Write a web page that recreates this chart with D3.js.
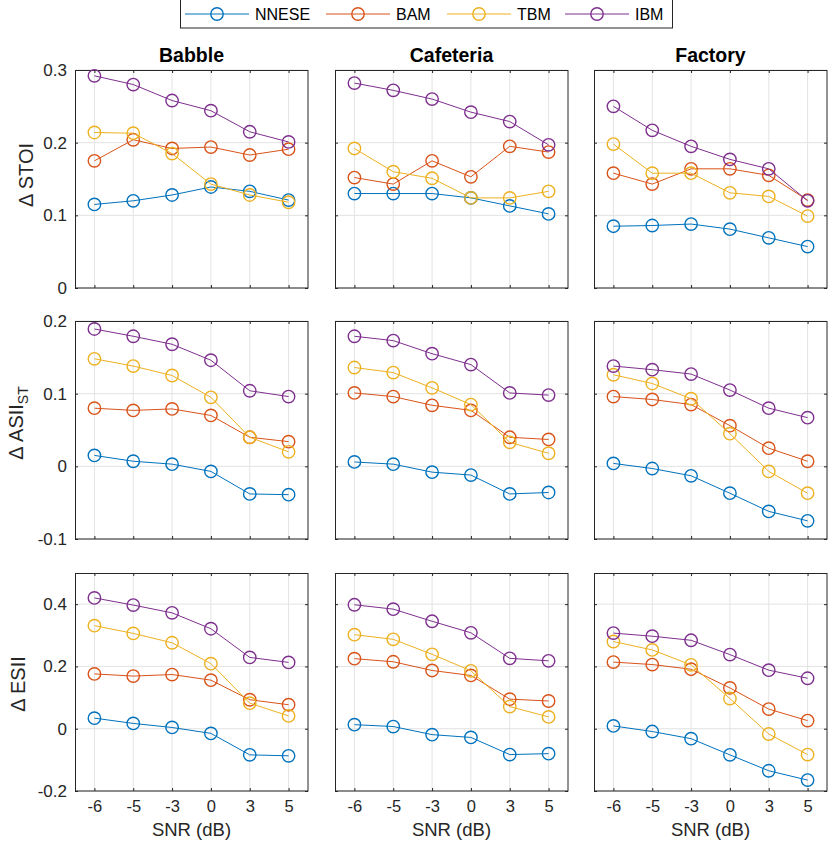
<!DOCTYPE html>
<html>
<head>
<meta charset="utf-8">
<script src="https://cdn.jsdelivr.net/npm/d3@7"></script>
<style>
  html, body { margin: 0; padding: 0; background: #fff; }
  svg { display: block; font-family: "Liberation Sans", Arial, Helvetica, sans-serif; }
</style>
</head>
<body>
<svg id="chart" width="830" height="841"></svg>
<script>
// ---------------- DATA ----------------
const snrLabels = ["-6", "-5", "-3", "0", "3", "5"];
const noiseTypes = ["Babble", "Cafeteria", "Factory"];
const methods = ["NNESE", "BAM", "TBM", "IBM"];
const methodColors = ["#0072BD", "#D95319", "#EDB120", "#7E2F8E"];

// rows: NNESE, BAM, TBM, IBM
const stoiBabble = [
  [0.115, 0.120, 0.128, 0.139, 0.133, 0.121],
  [0.175, 0.204, 0.192, 0.194, 0.183, 0.191],
  [0.214, 0.213, 0.185, 0.143, 0.128, 0.118],
  [0.292, 0.280, 0.258, 0.244, 0.215, 0.201]
];
const stoiCafeteria = [
  [0.130, 0.130, 0.130, 0.124, 0.113, 0.102],
  [0.152, 0.143, 0.175, 0.153, 0.195, 0.187],
  [0.192, 0.160, 0.151, 0.124, 0.124, 0.133],
  [0.282, 0.272, 0.260, 0.242, 0.229, 0.197]
];
const stoiFactory = [
  [0.085, 0.086, 0.088, 0.081, 0.069, 0.057],
  [0.158, 0.143, 0.164, 0.164, 0.155, 0.121],
  [0.198, 0.158, 0.158, 0.131, 0.126, 0.099],
  [0.250, 0.217, 0.195, 0.177, 0.164, 0.120]
];

const asiiBabble = [
  [0.015, 0.007, 0.003, -0.007, -0.038, -0.039],
  [0.080, 0.077, 0.079, 0.070, 0.040, 0.034],
  [0.148, 0.138, 0.125, 0.095, 0.040, 0.020],
  [0.189, 0.179, 0.168, 0.146, 0.104, 0.096]
];
const asiiCafeteria = [
  [0.006, 0.003, -0.008, -0.012, -0.038, -0.036],
  [0.101, 0.096, 0.084, 0.077, 0.040, 0.037],
  [0.136, 0.129, 0.108, 0.085, 0.033, 0.018],
  [0.179, 0.173, 0.155, 0.140, 0.101, 0.098]
];
const asiiFactory = [
  [0.004, -0.003, -0.013, -0.037, -0.062, -0.075],
  [0.096, 0.092, 0.085, 0.056, 0.025, 0.007],
  [0.126, 0.114, 0.093, 0.045, -0.007, -0.037],
  [0.138, 0.133, 0.127, 0.105, 0.080, 0.067]
];

const esiiBabble = [
  [0.034, 0.017, 0.004, -0.015, -0.084, -0.087],
  [0.176, 0.169, 0.174, 0.156, 0.093, 0.077],
  [0.331, 0.306, 0.276, 0.209, 0.082, 0.041],
  [0.420, 0.397, 0.372, 0.321, 0.229, 0.213]
];
const esiiCafeteria = [
  [0.013, 0.007, -0.019, -0.028, -0.083, -0.080],
  [0.225, 0.215, 0.187, 0.171, 0.095, 0.089],
  [0.302, 0.287, 0.239, 0.186, 0.071, 0.038],
  [0.398, 0.384, 0.345, 0.308, 0.226, 0.218]
];
const esiiFactory = [
  [0.009, -0.009, -0.032, -0.084, -0.135, -0.165],
  [0.214, 0.206, 0.191, 0.131, 0.063, 0.026],
  [0.280, 0.253, 0.205, 0.097, -0.017, -0.083],
  [0.307, 0.297, 0.284, 0.238, 0.188, 0.162]
];

const stoiTicks = [0, 0.1, 0.2, 0.3];
const asiiTicks = [-0.1, 0, 0.1, 0.2];
const esiiTicks = [-0.2, 0, 0.2, 0.4];
const stoiDomain = [0, 0.3];
const asiiDomain = [-0.1, 0.2];
const esiiDomain = [-0.2, 0.5];

const rowsSpec = [
  { data: [stoiBabble, stoiCafeteria, stoiFactory], ticks: stoiTicks, domain: stoiDomain, label: ["Δ STOI", null] },
  { data: [asiiBabble, asiiCafeteria, asiiFactory], ticks: asiiTicks, domain: asiiDomain, label: ["Δ ASII", "ST"] },
  { data: [esiiBabble, esiiCafeteria, esiiFactory], ticks: esiiTicks, domain: esiiDomain, label: ["Δ ESII", null] }
];

// ---------------- LAYOUT ----------------
const colX = [75, 335, 594];
const rowY = [70, 321, 573];
const panelW = 233, panelH = 218;
const ylabelPos = [{ x: 33, y: 175 }, { x: 23, y: 423 }, { x: 25, y: 684 }];
const textColor = "#262626";
const gridColor = "#e3e3e3";

const svg = d3.select("#chart");

const x = d3.scalePoint().domain(snrLabels).range([0, panelW]).padding(0.5);

rowsSpec.forEach((row, ri) => {
  const y = d3.scaleLinear().domain(row.domain).range([panelH, 0]);
  row.data.forEach((panelData, ci) => {
    const g = svg.append("g").attr("transform", `translate(${colX[ci]},${rowY[ri]})`);

    // grid
    g.append("g").selectAll("line.gx").data(snrLabels).join("line")
      .attr("x1", d => x(d)).attr("x2", d => x(d)).attr("y1", 0).attr("y2", panelH)
      .attr("stroke", gridColor).attr("stroke-width", 1);
    g.append("g").selectAll("line.gy").data(row.ticks).join("line")
      .attr("x1", 0).attr("x2", panelW).attr("y1", d => y(d)).attr("y2", d => y(d))
      .attr("stroke", gridColor).attr("stroke-width", 1);

    // axes (inward ticks, MATLAB style)
    const left = d3.axisLeft(y).tickValues(row.ticks).tickSize(-3).tickPadding(8)
      .tickFormat(d => (ci === 0 ? String(+d.toFixed(2)) : ""));
    const right = d3.axisRight(y).tickValues(row.ticks).tickSize(-3).tickFormat("");
    const bottom = d3.axisBottom(x).tickSize(-3).tickPadding(9)
      .tickFormat(d => (ri === 2 ? d : ""));
    const top = d3.axisTop(x).tickSize(-3).tickFormat("");

    const styleAxis = (sel, fs) => {
      sel.select(".domain").remove();
      sel.selectAll(".tick line").attr("stroke", textColor);
      sel.selectAll("text").attr("fill", textColor).style("font-size", fs + "px")
        .style("font-family", "'Liberation Sans', Arial, Helvetica, sans-serif");
    };
    g.append("g").call(left).call(styleAxis, 17);
    g.append("g").attr("transform", `translate(${panelW},0)`).call(right).call(styleAxis, 17);
    g.append("g").attr("transform", `translate(0,${panelH})`).call(bottom).call(styleAxis, 16.5);
    g.append("g").call(top).call(styleAxis, 17);

    // box
    g.append("rect").attr("x", 0.5).attr("y", 0.5).attr("width", panelW - 0.5).attr("height", panelH - 0.5)
      .attr("fill", "none").attr("stroke", textColor).attr("stroke-width", 1);

    // series
    const line = d3.line().x((d, i) => x(snrLabels[i])).y(d => y(d));
    panelData.forEach((vals, mi) => {
      const sg = g.append("g");
      sg.append("path").datum(vals).attr("d", line)
        .attr("fill", "none").attr("stroke", methodColors[mi]).attr("stroke-width", 1);
      sg.selectAll("circle").data(vals).join("circle")
        .attr("cx", (d, i) => x(snrLabels[i])).attr("cy", d => y(d)).attr("r", 6.2)
        .attr("fill", "none").attr("stroke", methodColors[mi]).attr("stroke-width", 1.4);
    });

    // titles
    if (ri === 0) {
      svg.append("text").attr("x", colX[ci] + panelW / 2).attr("y", 62)
        .attr("text-anchor", "middle").attr("font-weight", "bold").attr("font-size", 19.5)
        .attr("fill", "#000").text(noiseTypes[ci]);
    }
    // x label
    if (ri === 2) {
      svg.append("text").attr("x", colX[ci] + panelW / 2).attr("y", 836)
        .attr("text-anchor", "middle").attr("font-size", 18.5).attr("fill", textColor)
        .text("SNR (dB)");
    }
  });

  // y label
  const lp = ylabelPos[ri];
  const t = svg.append("text")
    .attr("transform", `translate(${lp.x},${lp.y}) rotate(-90)`)
    .attr("text-anchor", "middle").attr("font-size", 20).attr("fill", textColor);
  t.append("tspan").text(row.label[0]);
  if (row.label[1]) {
    t.append("tspan").attr("dy", 5).attr("font-size", 14).text(row.label[1]);
  }
});

// ---------------- LEGEND ----------------
const legendCx = [217, 358, 479, 597];
const legend = svg.append("g");
legend.append("rect").attr("x", 180.5).attr("y", -2).attr("width", 492).attr("height", 30)
  .attr("fill", "#fff").attr("stroke", textColor).attr("stroke-width", 1);
methods.forEach((m, i) => {
  const cx = legendCx[i];
  legend.append("line").attr("x1", cx - 32).attr("x2", cx + 32).attr("y1", 14).attr("y2", 14)
    .attr("stroke", methodColors[i]).attr("stroke-width", 1);
  legend.append("circle").attr("cx", cx).attr("cy", 14).attr("r", 6.2)
    .attr("fill", "none").attr("stroke", methodColors[i]).attr("stroke-width", 1.4);
  legend.append("text").attr("x", cx + 38).attr("y", 20).attr("font-size", 16)
    .attr("fill", "#000").text(m);
});
</script>
</body>
</html>
